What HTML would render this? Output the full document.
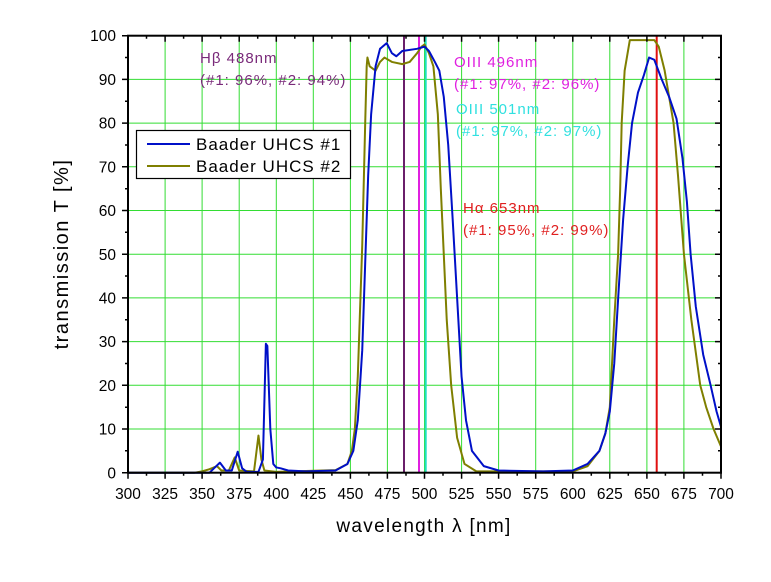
<!DOCTYPE html>
<html><head><meta charset="utf-8"><style>
html,body{margin:0;padding:0;background:#fff;}
svg{display:block;font-family:"Liberation Sans",sans-serif;}
</style></head><body>
<svg width="771" height="582" viewBox="0 0 771 582" xmlns="http://www.w3.org/2000/svg">
<rect width="771" height="582" fill="#fff"/>
<g stroke="#33dd33" stroke-width="1">
<line x1="165.1" y1="35.7" x2="165.1" y2="472.7"/><line x1="202.1" y1="35.7" x2="202.1" y2="472.7"/>
<line x1="239.2" y1="35.7" x2="239.2" y2="472.7"/><line x1="276.3" y1="35.7" x2="276.3" y2="472.7"/>
<line x1="313.3" y1="35.7" x2="313.3" y2="472.7"/><line x1="350.4" y1="35.7" x2="350.4" y2="472.7"/>
<line x1="387.4" y1="35.7" x2="387.4" y2="472.7"/><line x1="424.5" y1="35.7" x2="424.5" y2="472.7"/>
<line x1="461.6" y1="35.7" x2="461.6" y2="472.7"/><line x1="498.6" y1="35.7" x2="498.6" y2="472.7"/>
<line x1="535.7" y1="35.7" x2="535.7" y2="472.7"/><line x1="572.8" y1="35.7" x2="572.8" y2="472.7"/>
<line x1="609.8" y1="35.7" x2="609.8" y2="472.7"/><line x1="646.9" y1="35.7" x2="646.9" y2="472.7"/>
<line x1="683.9" y1="35.7" x2="683.9" y2="472.7"/>
<line x1="128" y1="79.4" x2="721" y2="79.4"/><line x1="128" y1="123.1" x2="721" y2="123.1"/>
<line x1="128" y1="166.8" x2="721" y2="166.8"/><line x1="128" y1="210.5" x2="721" y2="210.5"/>
<line x1="128" y1="254.2" x2="721" y2="254.2"/><line x1="128" y1="297.9" x2="721" y2="297.9"/>
<line x1="128" y1="341.6" x2="721" y2="341.6"/><line x1="128" y1="385.3" x2="721" y2="385.3"/>
<line x1="128" y1="429" x2="721" y2="429"/>
</g>
<line x1="404" y1="35.7" x2="404" y2="472.7" stroke="#6a1f6a" stroke-width="2"/>
<line x1="419" y1="35.7" x2="419" y2="472.7" stroke="#e020e0" stroke-width="2"/>
<line x1="425.7" y1="35.7" x2="425.7" y2="472.7" stroke="#20e0c0" stroke-width="2"/>
<line x1="656.7" y1="35.7" x2="656.7" y2="472.7" stroke="#e01010" stroke-width="2"/>
<g transform="translate(128,472.7) scale(1.4825,-4.37) translate(-300,0)" fill="none" stroke-linejoin="round">
<polyline vector-effect="non-scaling-stroke" stroke="#7f7f00" stroke-width="2" points="300,0 345,0 350,0.3 355,0.8 360,1.5 363,0.5 368,0.5 372,3.5 375,0.5 385,0.3 388,8.5 390,3 392,0.5 400,0.2 440,0.6 448,2 451,5 453,10 455,22 456,32 458,52 460,80 461,93 461.5,95 463,93 467,92 470,94 473,95 478,94 485,93.5 490,94 495,96 498,97.5 500,98 503,96 506,93 509,82 511,65 513,50 515,35 518,20 522,8 527,2 535,0.3 600,0.3 610,1.5 618,5 622,9 625,15 628,35 630.6,50 632,65 633,80 635,92 638.5,99 655,99 658,97.5 662,92 665,86 668,80 671,68 675,50 680,35 686,20 690,15 695,10 700,6"/>
<polyline vector-effect="non-scaling-stroke" stroke="#0010c8" stroke-width="2" points="300,0 355,0 358,1 362,2.3 366,0.5 370,0.5 374,4.8 377,1 380,0.2 388,0.2 391,3 393,29.5 394,29 396,10 398,2 400,1.2 403,1 408,0.5 420,0.3 440,0.5 448,2 452,5 455,12 458,28 460,48 462,68 464,82 467,93 470,97 474.5,98.3 478,96 481,95.3 485,96.5 495,97 500,97.5 503,96.5 507,94 510,92 513,86 516,75 519,58 522,40 525,22 528,12 532,5 540,1.5 550,0.5 580,0.3 600,0.5 610,2 618,5 622,9 625,14 628,25 631,42 634,58 637,70 640,80 644,87 648,91 651.5,95 655,94.5 660,90 665,86 670,81 674,72 677,62 679.5,50 683,38 688,27 693,20 697,14 700,10.5"/>
</g>
<rect x="128" y="35.7" width="593" height="437" fill="none" stroke="#000" stroke-width="2"/>
<g stroke="#000" stroke-width="1.5">
<path d="M128,472.7v6M165.1,472.7v6M202.1,472.7v6M239.2,472.7v6M276.3,472.7v6M313.3,472.7v6M350.4,472.7v6M387.4,472.7v6M424.5,472.7v6M461.6,472.7v6M498.6,472.7v6M535.7,472.7v6M572.8,472.7v6M609.8,472.7v6M646.9,472.7v6M683.9,472.7v6M721,472.7v6"/>
<path d="M146.5,472.7v3M183.6,472.7v3M220.7,472.7v3M257.7,472.7v3M294.8,472.7v3M331.9,472.7v3M368.9,472.7v3M406,472.7v3M443,472.7v3M480.1,472.7v3M517.2,472.7v3M554.2,472.7v3M591.3,472.7v3M628.3,472.7v3M665.4,472.7v3M702.5,472.7v3"/>
<path d="M165.1,35.7v6M202.1,35.7v6M239.2,35.7v6M276.3,35.7v6M313.3,35.7v6M350.4,35.7v6M387.4,35.7v6M424.5,35.7v6M461.6,35.7v6M498.6,35.7v6M535.7,35.7v6M572.8,35.7v6M609.8,35.7v6M646.9,35.7v6M683.9,35.7v6"/>
<path d="M146.5,35.7v3M183.6,35.7v3M220.7,35.7v3M257.7,35.7v3M294.8,35.7v3M331.9,35.7v3M368.9,35.7v3M406,35.7v3M443,35.7v3M480.1,35.7v3M517.2,35.7v3M554.2,35.7v3M591.3,35.7v3M628.3,35.7v3M665.4,35.7v3M702.5,35.7v3"/>
<path d="M128,35.7h-6M128,79.4h-6M128,123.1h-6M128,166.8h-6M128,210.5h-6M128,254.2h-6M128,297.9h-6M128,341.6h-6M128,385.3h-6M128,429h-6M128,472.7h-6"/>
<path d="M128,57.5h-3M128,101.2h-3M128,145h-3M128,188.7h-3M128,232.3h-3M128,276h-3M128,319.7h-3M128,363.5h-3M128,407.2h-3M128,450.8h-3"/>
<path d="M721,79.4h-6M721,123.1h-6M721,166.8h-6M721,210.5h-6M721,254.2h-6M721,297.9h-6M721,341.6h-6M721,385.3h-6M721,429h-6"/>
<path d="M721,57.5h-3M721,101.2h-3M721,145h-3M721,188.7h-3M721,232.3h-3M721,276h-3M721,319.7h-3M721,363.5h-3M721,407.2h-3M721,450.8h-3"/>
</g>
<g font-size="15.5" fill="#000" text-anchor="middle">
<text x="128" y="499">300</text><text x="165.1" y="499">325</text><text x="202.1" y="499">350</text>
<text x="239.2" y="499">375</text><text x="276.3" y="499">400</text><text x="313.3" y="499">425</text>
<text x="350.4" y="499">450</text><text x="387.4" y="499">475</text><text x="424.5" y="499">500</text>
<text x="461.6" y="499">525</text><text x="498.6" y="499">550</text><text x="535.7" y="499">575</text>
<text x="572.8" y="499">600</text><text x="609.8" y="499">625</text><text x="646.9" y="499">650</text>
<text x="683.9" y="499">675</text><text x="721" y="499">700</text>
</g>
<g font-size="15.5" fill="#000" text-anchor="end">
<text x="116" y="41">100</text><text x="116" y="85">90</text><text x="116" y="128.7">80</text>
<text x="116" y="172.4">70</text><text x="116" y="216">60</text><text x="116" y="259.8">50</text>
<text x="116" y="303.5">40</text><text x="116" y="347.2">30</text><text x="116" y="390.9">20</text>
<text x="116" y="434.6">10</text><text x="116" y="478.3">0</text>
</g>
<text x="424" y="532" font-size="19" letter-spacing="1.3" text-anchor="middle">wavelength λ [nm]</text>
<text transform="translate(68,254) rotate(-90)" font-size="20" letter-spacing="1.5" text-anchor="middle">transmission T [%]</text>
<g font-size="15" letter-spacing="1">
<text x="200" y="63" fill="#7a2a7a">Hβ 488nm</text>
<text x="200" y="85" fill="#7a2a7a">(#1: 96%, #2: 94%)</text>
<text x="454" y="67" fill="#e020e0">OIII 496nm</text>
<text x="454" y="89" fill="#e020e0">(#1: 97%, #2: 96%)</text>
<text x="456" y="114" fill="#30e0e0">OIII 501nm</text>
<text x="456" y="136" fill="#30e0e0">(#1: 97%, #2: 97%)</text>
<text x="463" y="213" fill="#e02020">Hα 653nm</text>
<text x="463" y="235" fill="#e02020">(#1: 95%, #2: 99%)</text>
</g>
<rect x="136.5" y="130.5" width="214" height="48" fill="#fff" stroke="#000" stroke-width="1.2"/>
<line x1="147" y1="144" x2="190" y2="144" stroke="#0010c8" stroke-width="2"/>
<line x1="147" y1="166" x2="190" y2="166" stroke="#7f7f00" stroke-width="2"/>
<text x="196" y="150" font-size="17" letter-spacing="1" fill="#000">Baader UHCS #1</text>
<text x="196" y="172" font-size="17" letter-spacing="1" fill="#000">Baader UHCS #2</text>
</svg>
</body></html>
